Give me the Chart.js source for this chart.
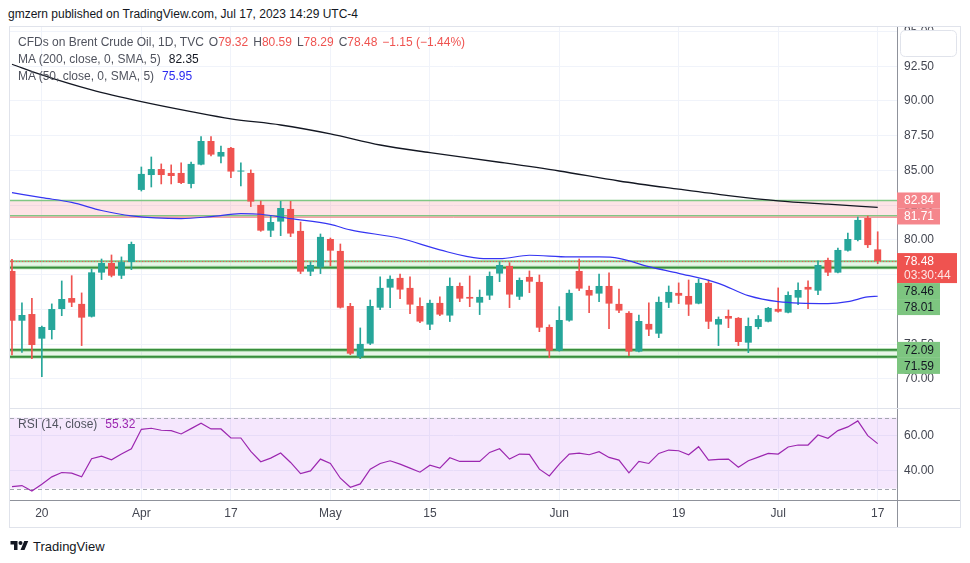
<!DOCTYPE html>
<html>
<head>
<meta charset="utf-8">
<title>CFDs on Brent Crude Oil, 1D</title>
<script src="https://cdn.jsdelivr.net/npm/chart.js@4.4.1/dist/chart.umd.min.js"></script>
<style>
  html, body { margin:0; padding:0; background:#ffffff; }
  body { width:970px; height:563px; position:relative; overflow:hidden; font-family:"Liberation Sans", Arial, sans-serif; }
  #title { position:absolute; left:8px; top:6px; font-size:12px; line-height:16px; color:#131722; white-space:nowrap; }
  #frame { position:absolute; left:9px; top:26px; width:950px; height:500px; border:1px solid #e0e3eb; }
  canvas { position:absolute; }
  #mainChart { left:10px; top:27px; }
  #rsiChart { left:10px; top:408px; }
  .lg { position:absolute; left:18px; font-size:12px; line-height:14px; color:#50535e; white-space:nowrap; }
  #lg1 { top:35px; } #lg2 { top:52px; } #lg3 { top:69px; } #lgRsi { top:417px; }
  .red { color:#ef5350; } .k { margin-left:5px; } .v { margin-left:8px; }
  #brand { position:absolute; left:10px; top:538px; height:16px; display:flex; align-items:center; }
  #brand span { font-size:13px; color:#131722; margin-left:4px; }
</style>
</head>
<body>
<div id="title">gmzern published on TradingView.com, Jul 17, 2023 14:29 UTC-4</div>
<div id="frame"></div>
<canvas id="mainChart" width="950" height="381"></canvas>
<canvas id="rsiChart" width="950" height="119"></canvas>
<div id="lg1" class="lg"></div>
<div id="lg2" class="lg"></div>
<div id="lg3" class="lg"></div>
<div id="lgRsi" class="lg"></div>
<div id="brand"><svg width="19" height="14" viewBox="0 0 36 28"><path fill="#131722" d="M14 22H7V11H0V4h14v18zM28 22h-8l7.5-18h8L28 22z"/><circle fill="#131722" cx="20" cy="8" r="4"/></svg><span>TradingView</span></div>
<script>
// ---------- DATA ----------
const symbolName = 'CFDs on Brent Crude Oil, 1D, TVC';
const dates = [
 '2023-03-15','2023-03-16','2023-03-17','2023-03-20','2023-03-21','2023-03-22','2023-03-23','2023-03-24','2023-03-27','2023-03-28','2023-03-29','2023-03-30','2023-03-31',
 '2023-04-03','2023-04-04','2023-04-05','2023-04-06','2023-04-10','2023-04-11','2023-04-12','2023-04-13','2023-04-14','2023-04-17','2023-04-18','2023-04-19','2023-04-20','2023-04-21','2023-04-24','2023-04-25','2023-04-26','2023-04-27','2023-04-28',
 '2023-05-01','2023-05-02','2023-05-03','2023-05-04','2023-05-05','2023-05-08','2023-05-09','2023-05-10','2023-05-11','2023-05-12','2023-05-15','2023-05-16','2023-05-17','2023-05-18','2023-05-19','2023-05-22','2023-05-23','2023-05-24','2023-05-25','2023-05-26','2023-05-29','2023-05-30','2023-05-31',
 '2023-06-01','2023-06-02','2023-06-05','2023-06-06','2023-06-07','2023-06-08','2023-06-09','2023-06-12','2023-06-13','2023-06-14','2023-06-15','2023-06-16','2023-06-19','2023-06-20','2023-06-21','2023-06-22','2023-06-23','2023-06-26','2023-06-27','2023-06-28','2023-06-29','2023-06-30',
 '2023-07-03','2023-07-04','2023-07-05','2023-07-06','2023-07-07','2023-07-10','2023-07-11','2023-07-12','2023-07-13','2023-07-14','2023-07-17'
];
const openP = [
 77.77,74.19,74.67,72.90,73.52,75.03,75.82,75.40,74.48,77.65,78.34,77.43,78.41,
 83.60,84.67,85.10,84.82,84.82,84.03,85.42,87.12,86.00,86.62,84.92,84.82,82.52,80.67,81.32,82.23,80.65,77.72,78.03,
 80.07,79.21,75.25,71.61,72.54,75.13,76.57,77.27,76.55,75.25,73.91,75.47,74.56,76.69,75.90,75.49,76.00,77.58,78.13,75.92,77.34,76.98,73.74,
 72.04,74.20,77.77,76.40,76.14,76.69,75.40,74.75,71.97,73.96,73.26,75.49,76.19,75.97,75.42,76.91,73.91,74.53,74.39,72.61,73.74,74.12,
 75.04,74.77,75.85,76.62,76.35,78.56,77.65,79.23,80.00,81.58,79.32
];
const highP = [
 78.61,75.47,75.80,73.81,75.40,77.05,77.43,76.19,77.91,78.63,78.92,78.78,79.85,
 85.25,85.97,85.47,85.40,85.54,85.61,87.43,87.43,86.76,86.66,85.54,85.04,82.80,81.73,82.78,82.78,81.29,78.41,80.43,
 80.14,79.71,75.44,73.67,75.68,77.34,77.41,77.55,77.34,75.83,75.68,75.90,77.27,76.91,77.41,76.40,77.70,78.42,78.37,77.27,77.77,77.48,73.89,
 75.20,76.40,78.63,76.69,77.55,77.63,76.47,74.84,74.60,75.47,75.90,76.69,76.91,77.12,77.19,77.12,74.46,74.96,74.42,74.39,74.56,75.15,
 76.55,76.26,76.91,77.05,78.49,78.70,79.42,80.50,81.65,81.72,80.59
];
const lowP = [
 71.72,71.90,71.46,70.16,72.87,74.55,75.20,72.40,74.45,77.15,77.34,77.22,77.86,
 83.52,83.81,84.03,84.03,84.05,83.74,85.40,86.04,85.54,84.48,83.88,82.40,80.62,80.24,80.31,80.24,77.58,77.43,77.58,
 78.13,75.10,71.75,71.46,72.47,74.99,75.13,75.78,74.70,74.05,73.55,74.56,74.13,75.56,75.20,74.63,75.71,77.00,75.13,75.71,76.21,73.40,71.53,
 72.00,74.15,76.36,74.77,75.56,73.62,74.77,71.68,71.95,73.12,72.97,75.13,75.42,74.56,75.40,73.62,72.40,73.69,72.40,71.89,73.60,74.10,
 74.80,74.75,75.35,75.06,76.07,77.43,77.63,79.20,79.93,79.45,78.29
];
const closeP = [
 74.19,74.60,72.44,73.74,75.03,75.75,75.49,74.41,77.67,78.34,77.43,78.41,79.71,
 84.75,85.10,84.67,84.60,84.10,85.47,87.12,86.14,86.33,84.92,84.96,82.76,80.67,81.29,82.30,80.46,77.72,78.20,80.22,
 79.23,75.13,71.82,72.52,75.25,76.55,77.20,76.43,75.35,74.13,75.47,74.63,76.69,75.78,75.78,75.90,77.41,78.20,76.07,77.12,77.00,73.69,72.04,
 74.24,76.19,76.50,76.00,76.69,75.42,74.92,71.97,74.17,73.55,75.54,76.26,75.99,75.35,76.91,74.12,74.31,74.34,72.66,73.81,74.31,75.11,
 74.84,76.04,76.40,76.43,78.20,77.65,79.28,80.07,81.44,79.63,78.48
];
// moving averages read at sampled bars (bar index -> value)
const ma200Idx = [0,3,8,13,18,22,27,32,37,42,49,55,61,67,72,77,82,87];
const ma200Val = [92.64,91.87,90.79,89.95,89.23,88.71,88.27,87.63,86.83,86.28,85.59,84.96,84.24,83.65,83.19,82.81,82.57,82.35];
const ma50Idx = [0,3,6,9,12,17,20,23,25,28,32,34,39,43,47,49,52,56,59,61,64,67,71,74,77,82,84,86,87];
const ma50Val = [83.40,83.04,82.70,82.12,81.73,81.53,81.68,81.89,81.85,81.53,81.12,80.72,80.12,79.28,78.68,78.65,78.90,78.78,78.78,78.68,78.08,77.60,76.88,75.99,75.56,75.42,75.56,75.90,75.95];
const rsiVal = [
 31.12,31.69,28.67,32.44,36.60,39.05,38.67,36.60,46.80,48.31,46.23,49.44,52.46,
 63.41,63.98,62.85,62.66,60.77,63.79,66.81,63.60,63.60,58.51,58.51,50.95,45.10,47.17,50.00,44.72,38.48,39.99,46.61,
 44.15,35.84,30.74,32.63,40.94,44.15,45.66,43.77,41.51,39.24,43.21,41.51,47.36,45.28,45.28,45.28,50.38,52.46,46.61,49.44,49.25,40.94,37.16,
 43.77,49.44,50.00,49.06,50.76,47.55,46.04,38.86,45.28,44.15,49.82,51.71,51.33,49.06,53.59,46.04,46.42,46.61,42.07,45.66,47.74,49.82,
 49.44,53.41,54.54,54.54,60.20,58.31,62.66,64.74,68.14,59.83,55.32
];
const tickDates = ['2023-03-20','2023-04-03','2023-04-17','2023-05-01','2023-05-15','2023-06-01','2023-06-19','2023-07-03','2023-07-17'];
const tickLabels = ['20','Apr','17','May','15','Jun','19','Jul','17'];
const priceTicks = [70,72.5,75,77.5,80,82.5,85,87.5,90,92.5,95];
const rsiTicks = [40,60];
const rsiBandLevels = [30,70];
const resZone = [81.71,82.84];
const supZone1 = [78.01,78.46];
const supZone2 = [71.59,72.09];
const countdown = '03:30:44';

// ---------- STYLE ----------
const FONT = '"Liberation Sans", Arial, sans-serif';
const UP = '#26a69a', DOWN = '#ef5350';
const GRID = '#f0f3fa', AXIS = '#8f929b', TXT = '#434651';
Chart.defaults.font.family = FONT;
Chart.defaults.font.size = 12;

const idx = dates.map((d,i)=>i);
const last = closeP.length - 1;
const lastPrice = closeP[last];
const candleColors = idx.map(i => closeP[i] >= openP[i] ? UP : DOWN);
const tickIdx = tickDates.map(d => dates.indexOf(d));
const f2 = v => Number(v).toFixed(2);
const X_MIN = -0.2, X_MAX = 88.94;

// ---------- LEGENDS ----------
const chg = closeP[last] - closeP[last-1];
const pct = chg / closeP[last-1] * 100;
const sgn = v => (v < 0 ? '\u2212' : '+') + Math.abs(v).toFixed(2);
document.getElementById('lg1').innerHTML =
  `<span>${symbolName}</span><span class="k">O</span><span class="red">${f2(openP[last])}</span>` +
  `<span class="k">H</span><span class="red">${f2(highP[last])}</span>` +
  `<span class="k">L</span><span class="red">${f2(lowP[last])}</span>` +
  `<span class="k">C</span><span class="red">${f2(closeP[last])}</span>` +
  `<span class="k red">${sgn(chg)} (${sgn(pct)}%)</span>`;
document.getElementById('lg2').innerHTML = `<span>MA (200, close, 0, SMA, 5)</span><span class="v" style="color:#131722">${f2(ma200Val[ma200Val.length-1])}</span>`;
document.getElementById('lg3').innerHTML = `<span>MA (50, close, 0, SMA, 5)</span><span class="v" style="color:#2a2af0">${f2(ma50Val[ma50Val.length-1])}</span>`;
document.getElementById('lgRsi').innerHTML = `<span>RSI (14, close)</span><span class="v" style="color:#9c27b0">${f2(rsiVal[last])}</span>`;

// ---------- PLUGINS ----------
function hline(ctx, area, y, color, w, dash) {
  ctx.save();
  ctx.strokeStyle = color; ctx.lineWidth = w;
  if (dash) ctx.setLineDash(dash);
  ctx.beginPath(); ctx.moveTo(area.left, y); ctx.lineTo(area.right, y); ctx.stroke();
  ctx.restore();
}
const zonePlugin = {
  id: 'zones',
  beforeDatasetsDraw(chart) {
    const { ctx, chartArea: a, scales: { y } } = chart;
    const band = (z, c) => { const t = y.getPixelForValue(z[1]), b = y.getPixelForValue(z[0]); ctx.fillStyle = c; ctx.fillRect(a.left, t, a.right - a.left, b - t); };
    ctx.save();
    band(resZone, 'rgba(242,54,69,0.135)');
    band(supZone1, 'rgba(76,175,80,0.13)');
    band(supZone2, 'rgba(76,175,80,0.13)');
    ctx.restore();
    const P = v => y.getPixelForValue(v);
    hline(ctx, a, P(resZone[1]), '#81c784', 1.5);
    hline(ctx, a, P(resZone[0]) - 0.5, '#81c784', 1.5);
    hline(ctx, a, P(resZone[0]) + 1, '#f36f78', 1);
    hline(ctx, a, P(supZone1[1]), '#81c784', 2);
    hline(ctx, a, P(supZone1[0]), '#a5d6a7', 3.5);
    hline(ctx, a, P(supZone1[0]), '#388e3c', 1.8);
    hline(ctx, a, P(supZone2[1]), '#a5d6a7', 3.5);
    hline(ctx, a, P(supZone2[1]), '#388e3c', 1.8);
    hline(ctx, a, P(supZone2[0]), '#a5d6a7', 3.5);
    hline(ctx, a, P(supZone2[0]), '#388e3c', 1.8);
    hline(ctx, a, Math.round(P(lastPrice)) + 0.5, DOWN, 1, [1, 2]);
  }
};
const labelPlugin = {
  id: 'priceLabels',
  afterDraw(chart) {
    const { ctx, chartArea: a, scales: { y } } = chart;
    const x0 = a.right;
    const items = [
      { v: resZone[1], bg: '#f5868c', fg: '#ffffff', h: 16, w: 43 },
      { v: resZone[0], bg: '#f5868c', fg: '#ffffff', h: 16, w: 43 },
      { v: lastPrice, bg: DOWN, fg: '#ffffff', h: 30, w: 60, sub: countdown },
      { v: supZone1[1], bg: '#7dc580', fg: '#131722', h: 16, w: 43 },
      { v: supZone1[0], bg: '#7dc580', fg: '#131722', h: 16, w: 43 },
      { v: supZone2[1], bg: '#7dc580', fg: '#131722', h: 16, w: 43 },
      { v: supZone2[0], bg: '#7dc580', fg: '#131722', h: 16, w: 43 }
    ];
    ctx.save();
    ctx.font = '12px ' + FONT;
    ctx.textBaseline = 'middle';
    ctx.textAlign = 'left';
    let prevBottom = -1e9;
    items.forEach(it => {
      let top = Math.max(y.getPixelForValue(it.v) - 8, prevBottom);
      ctx.fillStyle = it.bg;
      ctx.fillRect(x0, top, it.w, it.h);
      ctx.fillStyle = it.fg;
      ctx.fillText(f2(it.v), x0 + 7, top + 8.5);
      if (it.sub) { ctx.fillStyle = 'rgba(255,255,255,0.85)'; ctx.fillText(it.sub, x0 + 7, top + 22.5); }
      prevBottom = top + it.h;
    });
    // scale settings button box
    const bx = x0 + 3.5, by = 3.5, bw = 56, bh = 26, r = 5;
    ctx.beginPath();
    ctx.moveTo(bx + r, by); ctx.lineTo(bx + bw - r, by); ctx.quadraticCurveTo(bx + bw, by, bx + bw, by + r);
    ctx.lineTo(bx + bw, by + bh - r); ctx.quadraticCurveTo(bx + bw, by + bh, bx + bw - r, by + bh);
    ctx.lineTo(bx + r, by + bh); ctx.quadraticCurveTo(bx, by + bh, bx, by + bh - r);
    ctx.lineTo(bx, by + r); ctx.quadraticCurveTo(bx, by, bx + r, by); ctx.closePath();
    ctx.fillStyle = '#ffffff'; ctx.fill();
    ctx.strokeStyle = '#e0e3eb'; ctx.lineWidth = 1; ctx.stroke();
    ctx.restore();
  }
};
const rsiPlugin = {
  id: 'rsiBand',
  beforeDatasetsDraw(chart) {
    const { ctx, chartArea: a, scales: { y } } = chart;
    const yt = y.getPixelForValue(rsiBandLevels[1]), yb = y.getPixelForValue(rsiBandLevels[0]);
    ctx.save();
    ctx.fillStyle = 'rgba(170,60,240,0.12)';
    ctx.fillRect(a.left, yt, a.right - a.left, yb - yt);
    ctx.restore();
    hline(ctx, a, Math.round(yt) + 0.5, '#a3a6af', 1, [4, 3]);
    hline(ctx, a, Math.round(yb) + 0.5, '#a3a6af', 1, [4, 3]);
  },
  afterDraw(chart) {
    const { ctx, width, height, chartArea: a } = chart;
    ctx.save();
    ctx.strokeStyle = '#e0e3eb'; ctx.lineWidth = 1;
    ctx.beginPath(); ctx.moveTo(0, 0.5); ctx.lineTo(width, 0.5); ctx.stroke();
    ctx.strokeStyle = AXIS;
    const xr = Math.round(a.right) + 0.5, yb = Math.round(a.bottom) + 0.5;
    ctx.beginPath(); ctx.moveTo(a.right, yb); ctx.lineTo(width, yb); ctx.stroke();
    ctx.beginPath(); ctx.moveTo(xr, a.bottom); ctx.lineTo(xr, height); ctx.stroke();
    ctx.restore();
  }
};

// ---------- MAIN PRICE CHART ----------
new Chart(document.getElementById('mainChart'), {
  type: 'bar',
  data: {
    datasets: [
      { type: 'bar', data: idx.map(i => ({ x: i, y: [lowP[i], highP[i]] })), backgroundColor: candleColors,
        grouped: false, maxBarThickness: 1, barPercentage: 1, categoryPercentage: 1, order: 3 },
      { type: 'bar', data: idx.map(i => ({ x: i, y: [openP[i], closeP[i]] })), backgroundColor: candleColors,
        grouped: false, maxBarThickness: 7, barPercentage: 0.9, categoryPercentage: 1, minBarLength: 1, order: 2 },
      { type: 'line', data: ma50Idx.map((x, k) => ({ x, y: ma50Val[k] })), borderColor: '#3535f2', borderWidth: 1.2,
        pointRadius: 0, cubicInterpolationMode: 'monotone', order: 1 },
      { type: 'line', data: ma200Idx.map((x, k) => ({ x, y: ma200Val[k] })), borderColor: '#131722', borderWidth: 1.3,
        pointRadius: 0, cubicInterpolationMode: 'monotone', order: 0 }
    ]
  },
  options: {
    responsive: false, animation: false, devicePixelRatio: 1, events: [],
    layout: { padding: 0 },
    plugins: { legend: { display: false }, tooltip: { enabled: false } },
    scales: {
      x: {
        type: 'linear', min: X_MIN, max: X_MAX, offset: false,
        grid: { color: GRID, drawTicks: false, offset: false }, border: { display: false },
        ticks: { display: false },
        afterBuildTicks: s => { s.ticks = tickIdx.map(v => ({ value: v })); },
        afterFit: s => { s.height = 0; s.paddingLeft = 0; s.paddingRight = 0; }
      },
      y: {
        type: 'linear', position: 'right', min: 67.91, max: 95.32,
        grid: { color: GRID, drawTicks: false }, border: { display: true, color: AXIS },
        ticks: { padding: 7, color: TXT, font: { size: 12 }, callback: v => f2(v) },
        afterBuildTicks: s => { s.ticks = priceTicks.map(v => ({ value: v })); },
        afterFit: s => { s.width = 63; s.paddingTop = 0; s.paddingBottom = 0; }
      }
    }
  },
  plugins: [zonePlugin, labelPlugin]
});

// ---------- RSI CHART ----------
new Chart(document.getElementById('rsiChart'), {
  type: 'line',
  data: {
    datasets: [
      { data: idx.map(i => ({ x: i, y: rsiVal[i] })), borderColor: '#9c27b0', borderWidth: 1.2, pointRadius: 0, tension: 0 }
    ]
  },
  options: {
    responsive: false, animation: false, devicePixelRatio: 1, events: [],
    layout: { padding: 0 },
    plugins: { legend: { display: false }, tooltip: { enabled: false } },
    scales: {
      x: {
        type: 'linear', min: X_MIN, max: X_MAX, offset: false,
        grid: { color: GRID, drawTicks: false, offset: false }, border: { display: true, color: AXIS },
        ticks: { padding: 6, color: TXT, font: { size: 12 }, autoSkip: false, maxRotation: 0,
          callback: v => { const k = tickIdx.indexOf(v); return k >= 0 ? tickLabels[k] : ''; } },
        afterBuildTicks: s => { s.ticks = tickIdx.map(v => ({ value: v })); },
        afterFit: s => { s.height = 27; s.paddingLeft = 0; s.paddingRight = 0; }
      },
      y: {
        type: 'linear', position: 'right', min: 23.57, max: 75.4,
        grid: { color: GRID, drawTicks: false }, border: { display: true, color: AXIS },
        ticks: { padding: 7, color: TXT, font: { size: 12 }, callback: v => f2(v) },
        afterBuildTicks: s => { s.ticks = rsiTicks.map(v => ({ value: v })); },
        afterFit: s => { s.width = 63; s.paddingTop = 0; s.paddingBottom = 0; }
      }
    }
  },
  plugins: [rsiPlugin]
});
</script>
</body>
</html>
